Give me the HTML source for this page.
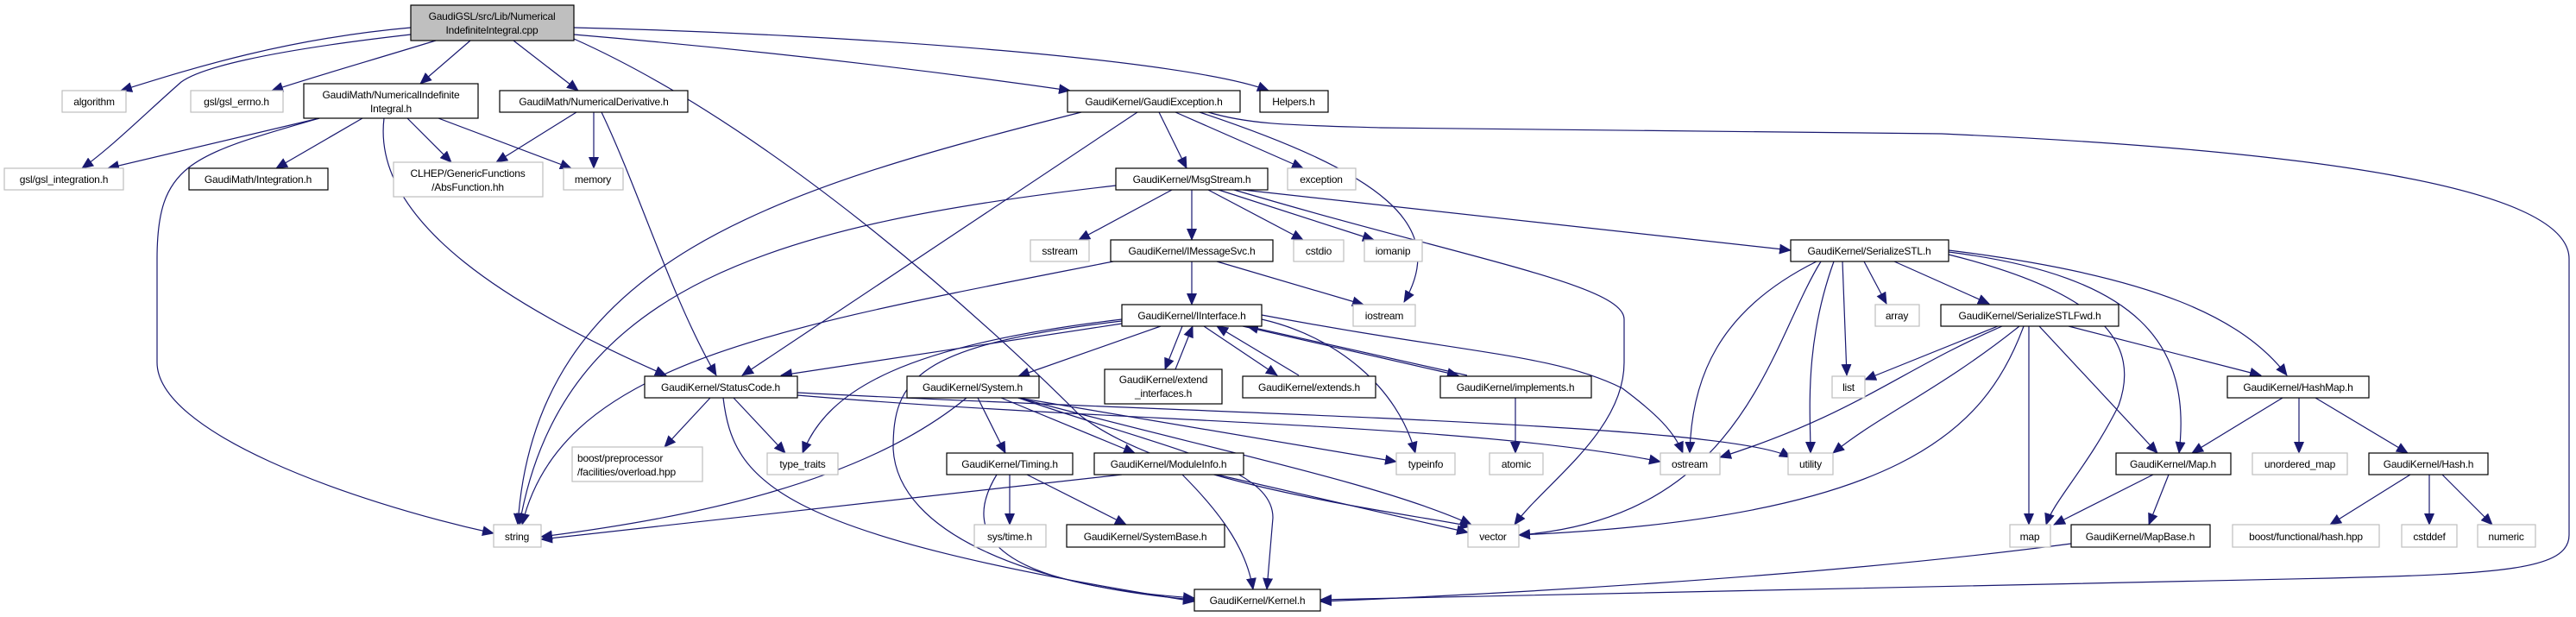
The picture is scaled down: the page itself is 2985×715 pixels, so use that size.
<!DOCTYPE html>
<html><head><meta charset="utf-8"><style>
html,body{margin:0;padding:0;background:#fff;}
svg{display:block;}
text{font-family:"Liberation Sans",sans-serif;font-size:12px;letter-spacing:-0.2px;fill:#000;}
</style></head><body>
<svg width="2985" height="715" viewBox="0 0 2985 715" xmlns="http://www.w3.org/2000/svg">
<defs>
<marker id="a" markerUnits="userSpaceOnUse" markerWidth="14" markerHeight="12" refX="13" refY="6" orient="auto">
<path d="M0,0 L14,6 L0,12 z" fill="#191970"/>
</marker>
</defs>
<g fill="none" stroke="#191970" stroke-width="1.2" marker-end="url(#a)">
<path d="M476,32 C330,45 220,80 140,105"/>
<path d="M505,47 C430,70 360,90 315,105"/>
<path d="M476,40 C300,60 230,80 210,95 C170,130 130,170 95,195"/>
<path d="M545,47 L487,97"/>
<path d="M595,47 L670,105"/>
<path d="M665,40 C900,60 1100,85 1240,105"/>
<path d="M665,32 C1000,40 1380,70 1470,105"/>
<path d="M665,45 C900,150 1150,380 1250,480 C1350,560 1600,590 1705,610"/>
<path d="M370,137 L125,195"/>
<path d="M370,137 C220,180 182,190 182,300 L182,420 C182,500 400,580 572,618"/>
<path d="M420,137 L320,195"/>
<path d="M472,137 L523,188"/>
<path d="M508,137 L662,195"/>
<path d="M445,137 C430,260 600,360 772,435"/>
<path d="M668,130 L575,188"/>
<path d="M688,130 L688,195"/>
<path d="M697,130 C740,220 780,350 830,435"/>
<path d="M1253,130 C900,220 620,300 600,608"/>
<path d="M1318,130 L860,435"/>
<path d="M1343,130 L1375,195"/>
<path d="M1362,130 L1510,195"/>
<path d="M1390,130 C1600,200 1680,260 1627,350"/>
<path d="M1400,130 C1450,145 1500,145 1600,148 L2250,155 C2700,175 2977,220 2977,300 L2977,620 C2977,660 2900,665 2700,670 L1530,695"/>
<path d="M1293,215 C900,260 650,330 602,608"/>
<path d="M1358,220 L1250,278"/>
<path d="M1381,220 L1381,278"/>
<path d="M1400,220 L1510,278"/>
<path d="M1412,220 L1592,278"/>
<path d="M1430,220 C1700,300 1882,330 1882,370 L1882,420 C1882,500 1790,560 1755,608"/>
<path d="M1440,220 L2075,290"/>
<path d="M1290,303 C900,380 650,420 605,608"/>
<path d="M1381,303 L1381,353"/>
<path d="M1410,303 L1580,353"/>
<path d="M1300,375 L905,435"/>
<path d="M1345,378 L1180,436"/>
<path d="M1370,378 L1350,428"/>
<path d="M1362,428 L1382,378"/>
<path d="M1395,378 L1480,435"/>
<path d="M1505,435 L1410,378"/>
<path d="M1440,378 L1690,435"/>
<path d="M1700,435 L1445,378"/>
<path d="M1300,370 C1050,400 960,450 930,525"/>
<path d="M1300,372 C1060,400 1035,440 1035,520 C1040,620 1200,680 1384,695"/>
<path d="M1462,370 C1550,390 1620,450 1640,525"/>
<path d="M1462,365 C1700,410 1800,410 1880,450 C1920,480 1940,500 1950,525"/>
<path d="M823,461 L770,518"/>
<path d="M850,461 L910,525"/>
<path d="M838,461 C850,560 900,620 1384,697"/>
<path d="M924,458 C1300,490 1700,490 1924,535"/>
<path d="M924,455 C1400,480 2000,490 2075,530"/>
<path d="M1120,461 C1000,560 800,600 627,622"/>
<path d="M1133,461 L1165,525"/>
<path d="M1160,461 L1315,525"/>
<path d="M1180,461 L1618,535"/>
<path d="M1180,461 C1400,520 1600,560 1705,608"/>
<path d="M1180,461 C1350,520 1475,540 1475,600 L1468,683"/>
<path d="M1170,550 L1170,608"/>
<path d="M1190,550 L1305,608"/>
<path d="M1155,550 C1100,640 1200,680 1384,693"/>
<path d="M1300,550 L627,625"/>
<path d="M1370,550 C1420,600 1445,640 1452,683"/>
<path d="M1410,550 L1701,617"/>
<path d="M1756,461 L1756,525"/>
<path d="M2105,303 C1990,360 1960,440 1958,525"/>
<path d="M2110,303 C2050,400 2020,600 1760,620"/>
<path d="M2125,303 C2090,400 2098,480 2098,525"/>
<path d="M2135,303 L2140,435"/>
<path d="M2160,303 L2186,352"/>
<path d="M2195,303 L2305,352"/>
<path d="M2258,295 C2440,340 2480,400 2455,470 C2420,540 2380,580 2371,608"/>
<path d="M2258,292 C2480,320 2540,400 2525,525"/>
<path d="M2258,290 C2500,320 2600,370 2650,435"/>
<path d="M2315,378 L2161,440"/>
<path d="M2320,378 C2200,430 2150,480 1993,530"/>
<path d="M2340,378 C2250,450 2180,480 2124,525"/>
<path d="M2345,378 C2300,500 2200,600 1760,620"/>
<path d="M2351,378 L2351,608"/>
<path d="M2363,378 L2500,525"/>
<path d="M2397,378 L2620,435"/>
<path d="M2645,461 L2540,525"/>
<path d="M2664,461 L2664,525"/>
<path d="M2683,461 L2790,525"/>
<path d="M2793,550 L2700,608"/>
<path d="M2815,550 L2815,608"/>
<path d="M2830,550 L2888,608"/>
<path d="M2495,550 L2380,608"/>
<path d="M2513,550 L2490,608"/>
<path d="M2400,630 C2100,670 1700,690 1530,697"/>
</g>
<g stroke-width="1.2" fill="#fff">
<rect x="476" y="6" width="189" height="41" fill="#bfbfbf" stroke="#000"/>
<rect x="72" y="105" width="74" height="25" stroke="#bfbfbf"/>
<rect x="221" y="105" width="107" height="25" stroke="#bfbfbf"/>
<rect x="352" y="97" width="202" height="40" stroke="#000"/>
<rect x="579" y="105" width="218" height="25" stroke="#000"/>
<rect x="1237" y="105" width="200" height="25" stroke="#000"/>
<rect x="1460" y="105" width="79" height="25" stroke="#000"/>
<rect x="5" y="195" width="138" height="25" stroke="#bfbfbf"/>
<rect x="219" y="195" width="161" height="25" stroke="#000"/>
<rect x="456" y="188" width="173" height="40" stroke="#bfbfbf"/>
<rect x="653" y="195" width="69" height="25" stroke="#bfbfbf"/>
<rect x="1293" y="195" width="176" height="25" stroke="#000"/>
<rect x="1492" y="195" width="79" height="25" stroke="#bfbfbf"/>
<rect x="1194" y="278" width="68" height="25" stroke="#bfbfbf"/>
<rect x="1287" y="278" width="188" height="25" stroke="#000"/>
<rect x="1499" y="278" width="58" height="25" stroke="#bfbfbf"/>
<rect x="1581" y="278" width="67" height="25" stroke="#bfbfbf"/>
<rect x="2075" y="278" width="183" height="25" stroke="#000"/>
<rect x="1300" y="353" width="162" height="25" stroke="#000"/>
<rect x="1568" y="353" width="72" height="25" stroke="#bfbfbf"/>
<rect x="2173" y="353" width="51" height="25" stroke="#bfbfbf"/>
<rect x="2249" y="353" width="206" height="25" stroke="#000"/>
<rect x="747" y="436" width="177" height="25" stroke="#000"/>
<rect x="1051" y="436" width="153" height="25" stroke="#000"/>
<rect x="1280" y="428" width="136" height="40" stroke="#000"/>
<rect x="1440" y="436" width="154" height="25" stroke="#000"/>
<rect x="1669" y="436" width="175" height="25" stroke="#000"/>
<rect x="2123" y="436" width="38" height="25" stroke="#bfbfbf"/>
<rect x="2581" y="436" width="164" height="25" stroke="#000"/>
<rect x="663" y="518" width="151" height="40" stroke="#bfbfbf"/>
<rect x="889" y="525" width="82" height="25" stroke="#bfbfbf"/>
<rect x="1097" y="525" width="146" height="25" stroke="#000"/>
<rect x="1268" y="525" width="173" height="25" stroke="#000"/>
<rect x="1618" y="525" width="68" height="25" stroke="#bfbfbf"/>
<rect x="1726" y="525" width="62" height="25" stroke="#bfbfbf"/>
<rect x="1924" y="525" width="69" height="25" stroke="#bfbfbf"/>
<rect x="2072" y="525" width="52" height="25" stroke="#bfbfbf"/>
<rect x="2452" y="525" width="133" height="25" stroke="#000"/>
<rect x="2610" y="525" width="110" height="25" stroke="#bfbfbf"/>
<rect x="2745" y="525" width="138" height="25" stroke="#000"/>
<rect x="572" y="608" width="55" height="26" stroke="#bfbfbf"/>
<rect x="1129" y="608" width="83" height="26" stroke="#bfbfbf"/>
<rect x="1236" y="608" width="183" height="26" stroke="#000"/>
<rect x="1701" y="608" width="59" height="26" stroke="#bfbfbf"/>
<rect x="2329" y="608" width="47" height="26" stroke="#bfbfbf"/>
<rect x="2400" y="608" width="161" height="26" stroke="#000"/>
<rect x="2587" y="608" width="170" height="26" stroke="#bfbfbf"/>
<rect x="2783" y="608" width="64" height="26" stroke="#bfbfbf"/>
<rect x="2871" y="608" width="67" height="26" stroke="#bfbfbf"/>
<rect x="1384" y="683" width="146" height="25" stroke="#000"/>
</g>
<g text-anchor="middle">
<text x="570" y="23">GaudiGSL/src/Lib/Numerical</text>
<text x="570" y="39">IndefiniteIntegral.cpp</text>
<text x="109" y="122">algorithm</text>
<text x="274" y="122">gsl/gsl_errno.h</text>
<text x="453" y="114">GaudiMath/NumericalIndefinite</text>
<text x="453" y="130">Integral.h</text>
<text x="688" y="122">GaudiMath/NumericalDerivative.h</text>
<text x="1337" y="122">GaudiKernel/GaudiException.h</text>
<text x="1499" y="122">Helpers.h</text>
<text x="74" y="212">gsl/gsl_integration.h</text>
<text x="299" y="212">GaudiMath/Integration.h</text>
<text x="542" y="205">CLHEP/GenericFunctions</text>
<text x="542" y="221">/AbsFunction.hh</text>
<text x="687" y="212">memory</text>
<text x="1381" y="212">GaudiKernel/MsgStream.h</text>
<text x="1531" y="212">exception</text>
<text x="1228" y="295">sstream</text>
<text x="1381" y="295">GaudiKernel/IMessageSvc.h</text>
<text x="1528" y="295">cstdio</text>
<text x="1614" y="295">iomanip</text>
<text x="2166" y="295">GaudiKernel/SerializeSTL.h</text>
<text x="1381" y="370">GaudiKernel/IInterface.h</text>
<text x="1604" y="370">iostream</text>
<text x="2198" y="370">array</text>
<text x="2352" y="370">GaudiKernel/SerializeSTLFwd.h</text>
<text x="835" y="453">GaudiKernel/StatusCode.h</text>
<text x="1127" y="453">GaudiKernel/System.h</text>
<text x="1348" y="444">GaudiKernel/extend</text>
<text x="1348" y="460">_interfaces.h</text>
<text x="1517" y="453">GaudiKernel/extends.h</text>
<text x="1756" y="453">GaudiKernel/implements.h</text>
<text x="2142" y="453">list</text>
<text x="2663" y="453">GaudiKernel/HashMap.h</text>
<text x="930" y="542">type_traits</text>
<text x="1170" y="542">GaudiKernel/Timing.h</text>
<text x="1354" y="542">GaudiKernel/ModuleInfo.h</text>
<text x="1652" y="542">typeinfo</text>
<text x="1757" y="542">atomic</text>
<text x="1958" y="542">ostream</text>
<text x="2098" y="542">utility</text>
<text x="2518" y="542">GaudiKernel/Map.h</text>
<text x="2665" y="542">unordered_map</text>
<text x="2814" y="542">GaudiKernel/Hash.h</text>
<text x="599" y="626">string</text>
<text x="1170" y="626">sys/time.h</text>
<text x="1327" y="626">GaudiKernel/SystemBase.h</text>
<text x="1730" y="626">vector</text>
<text x="2352" y="626">map</text>
<text x="2480" y="626">GaudiKernel/MapBase.h</text>
<text x="2672" y="626">boost/functional/hash.hpp</text>
<text x="2815" y="626">cstddef</text>
<text x="2904" y="626">numeric</text>
<text x="1457" y="700">GaudiKernel/Kernel.h</text>
</g>
<text x="669" y="535">boost/preprocessor</text>
<text x="669" y="551">/facilities/overload.hpp</text>
</svg>
</body></html>
